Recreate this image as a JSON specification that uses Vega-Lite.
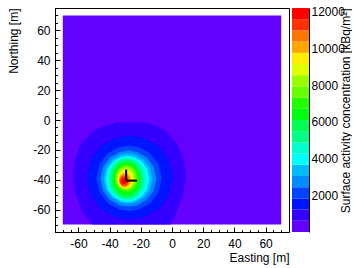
{
"$schema":"https://vega.github.io/schema/vega-lite/v6.json",
"padding":{"left":7,"top":5,"right":0,"bottom":4},
"background":"white",
"config":{"view":{"stroke":null},"font":"Liberation Sans","axis":{"labelFont":"Liberation Sans","titleFont":"Liberation Sans","labelFontSize":12,"titleFontSize":12,"titleFontWeight":"normal","labelColor":"black","titleColor":"black","tickColor":"black","domainColor":"black","grid":false,"labelOverlap":false}},
"datasets":{
"bg":[{"k":0,"x":-70,"x2":70,"y":-70,"y2":70}],
"marker":[{"x":-29.4,"y":-33.2,"x2":-29.4,"y2":-40.6},{"x":-29.4,"y":-40.6,"x2":-22.4,"y2":-40.6}],
"bar":[{"k":0,"lo":0,"hi":611},{"k":1,"lo":611,"hi":1222},{"k":2,"lo":1222,"hi":1833},{"k":3,"lo":1833,"hi":2443},{"k":4,"lo":2443,"hi":3054},{"k":5,"lo":3054,"hi":3665},{"k":6,"lo":3665,"hi":4276},{"k":7,"lo":4276,"hi":4886},{"k":8,"lo":4886,"hi":5497},{"k":9,"lo":5497,"hi":6108},{"k":10,"lo":6108,"hi":6719},{"k":11,"lo":6719,"hi":7330},{"k":12,"lo":7330,"hi":7940},{"k":13,"lo":7940,"hi":8551},{"k":14,"lo":8551,"hi":9162},{"k":15,"lo":9162,"hi":9773},{"k":16,"lo":9773,"hi":10384},{"k":17,"lo":10384,"hi":10994},{"k":18,"lo":10994,"hi":11605},{"k":19,"lo":11605,"hi":12216}],
"bands":[
{"k":1,"x":-63.3,"y":-38.6,"y2":-38.6},{"k":1,"x":-62.4,"y":-27.4,"y2":-45.3},{"k":1,"x":-61.8,"y":-25.6,"y2":-49.8},{"k":1,"x":-58.6,"y":-16.1,"y2":-58.1},{"k":1,"x":-57.5,"y":-15.0,"y2":-61},{"k":1,"x":-51,"y":-8.2,"y2":-70},{"k":1,"x":-50,"y":-7.2,"y2":-70},{"k":1,"x":-43,"y":-3.8,"y2":-70},{"k":1,"x":-35,"y":-1.6,"y2":-70},{"k":1,"x":-18,"y":-1.6,"y2":-70},{"k":1,"x":-10,"y":-4.0,"y2":-70},{"k":1,"x":-4.3,"y":-7.2,"y2":-70},{"k":1,"x":-1,"y":-11.1,"y2":-70},{"k":1,"x":3.2,"y":-16.1,"y2":-61},{"k":1,"x":7,"y":-25.2,"y2":-49.8},{"k":1,"x":7.9,"y":-27.4,"y2":-44.5},{"k":1,"x":8.9,"y":-38.6,"y2":-38.6},
{"k":2,"x":-54.8,"y":-38.6,"y2":-38.6},{"k":2,"x":-52.0,"y":-26.4,"y2":-50.8},{"k":2,"x":-45.1,"y":-17.3,"y2":-59.9},{"k":2,"x":-35.4,"y":-11.9,"y2":-65.3},{"k":2,"x":-27.1,"y":-10.6,"y2":-66.6},{"k":2,"x":-18.8,"y":-11.9,"y2":-65.3},{"k":2,"x":-9.1,"y":-17.3,"y2":-59.9},{"k":2,"x":-2.2,"y":-26.4,"y2":-50.8},{"k":2,"x":0.6,"y":-38.6,"y2":-38.6},
{"k":3,"x":-48.5,"y":-39,"y2":-39},{"k":3,"x":-46.4,"y":-29.4,"y2":-48.6},{"k":3,"x":-41.2,"y":-22.3,"y2":-55.7},{"k":3,"x":-33.8,"y":-18.0,"y2":-60.0},{"k":3,"x":-27.5,"y":-17,"y2":-61},{"k":3,"x":-21.2,"y":-18.0,"y2":-60.0},{"k":3,"x":-13.9,"y":-22.3,"y2":-55.7},{"k":3,"x":-8.6,"y":-29.4,"y2":-48.6},{"k":3,"x":-6.5,"y":-39,"y2":-39},
{"k":4,"x":-46,"y":-39.3,"y2":-39.3},{"k":4,"x":-44.2,"y":-31.1,"y2":-47.5},{"k":4,"x":-39.7,"y":-25.0,"y2":-53.5},{"k":4,"x":-33.4,"y":-21.4,"y2":-57.2},{"k":4,"x":-28,"y":-20.5,"y2":-58},{"k":4,"x":-22.6,"y":-21.4,"y2":-57.2},{"k":4,"x":-16.3,"y":-25.0,"y2":-53.5},{"k":4,"x":-11.8,"y":-31.1,"y2":-47.5},{"k":4,"x":-10,"y":-39.3,"y2":-39.3},
{"k":5,"x":-44,"y":-39.3,"y2":-39.3},{"k":5,"x":-42.4,"y":-32.0,"y2":-46.6},{"k":5,"x":-38.5,"y":-26.6,"y2":-51.9},{"k":5,"x":-33.0,"y":-23.3,"y2":-55.2},{"k":5,"x":-28.3,"y":-22.5,"y2":-56},{"k":5,"x":-23.5,"y":-23.3,"y2":-55.2},{"k":5,"x":-18.0,"y":-26.6,"y2":-51.9},{"k":5,"x":-14.1,"y":-32.0,"y2":-46.6},{"k":5,"x":-12.5,"y":-39.3,"y2":-39.3},
{"k":6,"x":-42.5,"y":-39.5,"y2":-39.5},{"k":6,"x":-41.1,"y":-32.7,"y2":-46.3},{"k":6,"x":-37.6,"y":-27.7,"y2":-51.3},{"k":6,"x":-32.7,"y":-24.7,"y2":-54.3},{"k":6,"x":-28.5,"y":-24,"y2":-55},{"k":6,"x":-24.3,"y":-24.7,"y2":-54.3},{"k":6,"x":-19.4,"y":-27.7,"y2":-51.3},{"k":6,"x":-15.9,"y":-32.7,"y2":-46.3},{"k":6,"x":-14.5,"y":-39.5,"y2":-39.5},
{"k":7,"x":-41,"y":-39.5,"y2":-39.5},{"k":7,"x":-39.8,"y":-33.2,"y2":-45.8},{"k":7,"x":-36.7,"y":-28.5,"y2":-50.5},{"k":7,"x":-32.4,"y":-25.7,"y2":-53.3},{"k":7,"x":-28.8,"y":-25,"y2":-54},{"k":7,"x":-25.1,"y":-25.7,"y2":-53.3},{"k":7,"x":-20.8,"y":-28.5,"y2":-50.5},{"k":7,"x":-17.7,"y":-33.2,"y2":-45.8},{"k":7,"x":-16.5,"y":-39.5,"y2":-39.5},
{"k":8,"x":-40,"y":-39.5,"y2":-39.5},{"k":8,"x":-38.9,"y":-33.6,"y2":-45.4},{"k":8,"x":-36.2,"y":-29.2,"y2":-49.8},{"k":8,"x":-32.3,"y":-26.6,"y2":-52.4},{"k":8,"x":-29,"y":-26,"y2":-53},{"k":8,"x":-25.7,"y":-26.6,"y2":-52.4},{"k":8,"x":-21.9,"y":-29.2,"y2":-49.8},{"k":8,"x":-19.1,"y":-33.6,"y2":-45.4},{"k":8,"x":-18,"y":-39.5,"y2":-39.5},
{"k":9,"x":-39,"y":-39.5,"y2":-39.5},{"k":9,"x":-38,"y":-34,"y2":-45},{"k":9,"x":-35.5,"y":-30,"y2":-49},{"k":9,"x":-32,"y":-27.6,"y2":-51.4},{"k":9,"x":-29,"y":-27,"y2":-52},{"k":9,"x":-26,"y":-27.6,"y2":-51.4},{"k":9,"x":-22.5,"y":-30,"y2":-49},{"k":9,"x":-20,"y":-34,"y2":-45},{"k":9,"x":-19,"y":-39.5,"y2":-39.5},
{"k":10,"x":-38,"y":-39.5,"y2":-39.5},{"k":10,"x":-37.1,"y":-34.7,"y2":-44.3},{"k":10,"x":-34.9,"y":-31.1,"y2":-47.9},{"k":10,"x":-31.9,"y":-29.0,"y2":-50.0},{"k":10,"x":-29.3,"y":-28.5,"y2":-50.5},{"k":10,"x":-26.6,"y":-29.0,"y2":-50.0},{"k":10,"x":-23.6,"y":-31.1,"y2":-47.9},{"k":10,"x":-21.4,"y":-34.7,"y2":-44.3},{"k":10,"x":-20.5,"y":-39.5,"y2":-39.5},
{"k":11,"x":-37,"y":-39.3,"y2":-39.3},{"k":11,"x":-36.2,"y":-35.0,"y2":-43.6},{"k":11,"x":-34.3,"y":-31.9,"y2":-46.7},{"k":11,"x":-31.6,"y":-30.0,"y2":-48.6},{"k":11,"x":-29.3,"y":-29.5,"y2":-49.0},{"k":11,"x":-26.9,"y":-30.0,"y2":-48.6},{"k":11,"x":-24.2,"y":-31.9,"y2":-46.7},{"k":11,"x":-22.3,"y":-35.0,"y2":-43.6},{"k":11,"x":-21.5,"y":-39.3,"y2":-39.3},
{"k":12,"x":-36.2,"y":-39,"y2":-39},{"k":12,"x":-35.5,"y":-35.3,"y2":-42.7},{"k":12,"x":-33.8,"y":-32.5,"y2":-45.5},{"k":12,"x":-31.4,"y":-30.9,"y2":-47.1},{"k":12,"x":-29.3,"y":-30.5,"y2":-47.5},{"k":12,"x":-27.2,"y":-30.9,"y2":-47.1},{"k":12,"x":-24.8,"y":-32.5,"y2":-45.5},{"k":12,"x":-23.1,"y":-35.3,"y2":-42.7},{"k":12,"x":-22.4,"y":-39,"y2":-39},
{"k":13,"x":-35.5,"y":-39,"y2":-39},{"k":13,"x":-34.9,"y":-35.7,"y2":-42.3},{"k":13,"x":-33.4,"y":-33.3,"y2":-44.7},{"k":13,"x":-31.3,"y":-31.8,"y2":-46.2},{"k":13,"x":-29.5,"y":-31.5,"y2":-46.5},{"k":13,"x":-27.7,"y":-31.8,"y2":-46.2},{"k":13,"x":-25.6,"y":-33.3,"y2":-44.7},{"k":13,"x":-24.1,"y":-35.7,"y2":-42.3},{"k":13,"x":-23.5,"y":-39,"y2":-39},
{"k":14,"x":-35,"y":-39.3,"y2":-39.3},{"k":14,"x":-34.5,"y":-36.4,"y2":-42.2},{"k":14,"x":-33.2,"y":-34.2,"y2":-44.4},{"k":14,"x":-31.3,"y":-32.9,"y2":-45.7},{"k":14,"x":-29.8,"y":-32.5,"y2":-46},{"k":14,"x":-28.2,"y":-32.9,"y2":-45.7},{"k":14,"x":-26.3,"y":-34.2,"y2":-44.4},{"k":14,"x":-25.0,"y":-36.4,"y2":-42.2},{"k":14,"x":-24.5,"y":-39.3,"y2":-39.3},
{"k":15,"x":-34.5,"y":-39.8,"y2":-39.8},{"k":15,"x":-34.1,"y":-37.3,"y2":-42.3},{"k":15,"x":-32.9,"y":-35.4,"y2":-44.2},{"k":15,"x":-31.4,"y":-34.3,"y2":-45.3},{"k":15,"x":-30,"y":-34,"y2":-45.5},{"k":15,"x":-28.7,"y":-34.3,"y2":-45.3},{"k":15,"x":-27.1,"y":-35.4,"y2":-44.2},{"k":15,"x":-25.9,"y":-37.3,"y2":-42.3},{"k":15,"x":-25.5,"y":-39.8,"y2":-39.8},
{"k":16,"x":-34,"y":-40.3,"y2":-40.3},{"k":16,"x":-33.6,"y":-38.2,"y2":-42.4},{"k":16,"x":-32.7,"y":-36.7,"y2":-43.9},{"k":16,"x":-31.4,"y":-35.8,"y2":-44.8},{"k":16,"x":-30.3,"y":-35.5,"y2":-45},{"k":16,"x":-29.1,"y":-35.8,"y2":-44.8},{"k":16,"x":-27.8,"y":-36.7,"y2":-43.9},{"k":16,"x":-26.9,"y":-38.2,"y2":-42.4},{"k":16,"x":-26.5,"y":-40.3,"y2":-40.3},
{"k":17,"x":-33.8,"y":-40.5,"y2":-40.5},{"k":17,"x":-33.5,"y":-38.8,"y2":-42.2},{"k":17,"x":-32.6,"y":-37.5,"y2":-43.5},{"k":17,"x":-31.5,"y":-36.7,"y2":-44.3},{"k":17,"x":-30.5,"y":-36.5,"y2":-44.5},{"k":17,"x":-29.5,"y":-36.7,"y2":-44.3},{"k":17,"x":-28.4,"y":-37.5,"y2":-43.5},{"k":17,"x":-27.5,"y":-38.8,"y2":-42.2},{"k":17,"x":-27.2,"y":-40.5,"y2":-40.5},
{"k":18,"x":-33.5,"y":-40.8,"y2":-40.8},{"k":18,"x":-33.2,"y":-39.4,"y2":-42.2},{"k":18,"x":-32.5,"y":-38.3,"y2":-43.3},{"k":18,"x":-31.6,"y":-37.7,"y2":-43.9},{"k":18,"x":-30.8,"y":-37.5,"y2":-44},{"k":18,"x":-29.9,"y":-37.7,"y2":-43.9},{"k":18,"x":-29.0,"y":-38.3,"y2":-43.3},{"k":18,"x":-28.3,"y":-39.4,"y2":-42.2},{"k":18,"x":-28,"y":-40.8,"y2":-40.8},
{"k":19,"x":-32.8,"y":-41,"y2":-41},{"k":19,"x":-32.6,"y":-40.1,"y2":-41.9},{"k":19,"x":-32.1,"y":-39.5,"y2":-42.5},{"k":19,"x":-31.5,"y":-39.1,"y2":-42.9},{"k":19,"x":-30.9,"y":-39,"y2":-43},{"k":19,"x":-30.3,"y":-39.1,"y2":-42.9},{"k":19,"x":-29.7,"y":-39.5,"y2":-42.5},{"k":19,"x":-29.2,"y":-40.1,"y2":-41.9},{"k":19,"x":-29,"y":-41,"y2":-41}
]},
"spacing":2,
"hconcat":[
{"width":234,"height":224,
"view":{"stroke":"black","strokeWidth":1},
"resolve":{"axis":{"x":"independent","y":"independent"}},
"layer":[
{"data":{"name":"bg"},"mark":{"type":"rect"},
"encoding":{
"x":{"field":"x","type":"quantitative","scale":{"domain":[-75,75],"nice":false,"zero":false},"axis":{"orient":"bottom","values":[-60,-40,-20,0,20,40,60],"labelExpr":"''+datum.value","tickSize":-5,"labelPadding":11,"title":"Easting [m]","titleAnchor":"end","titlePadding":3}},
"x2":{"field":"x2"},
"y":{"field":"y","type":"quantitative","scale":{"domain":[-75,75],"nice":false,"zero":false},"axis":{"orient":"left","values":[-60,-40,-20,0,20,40,60],"labelExpr":"''+datum.value","tickSize":-5,"labelPadding":10,"title":"Northing [m]","titleAnchor":"end","titlePadding":12}},
"y2":{"field":"y2"},
"color":{"field":"k","type":"ordinal","scale":{"domain":[0,1,2,3,4,5,6,7,8,9,10,11,12,13,14,15,16,17,18,19],"range":["#6300ff","#3300ff","#0014ff","#0044ff","#008bff","#00bbff","#00fffc","#00ffcc","#00ff85","#00ff55","#00ff0e","#22ff00","#69ff00","#99ff00","#e0ff00","#ffee00","#ffa700","#ff7700","#ff3000","#ff0000"]},"legend":null}}},
{"data":{"name":"bands"},"mark":{"type":"area","interpolate":"linear"},
"encoding":{
"x":{"field":"x","type":"quantitative","axis":{"orient":"bottom","values":[-75,-70,-65,-60,-55,-50,-45,-40,-35,-30,-25,-20,-15,-10,-5,0,5,10,15,20,25,30,35,40,45,50,55,60,65,70,75],"labels":false,"domain":false,"tickSize":-2.5,"title":null}},
"y":{"field":"y","type":"quantitative","stack":null,"axis":{"orient":"left","values":[-75,-70,-65,-60,-55,-50,-45,-40,-35,-30,-25,-20,-15,-10,-5,0,5,10,15,20,25,30,35,40,45,50,55,60,65,70,75],"labels":false,"domain":false,"tickSize":-2.5,"title":null}},
"y2":{"field":"y2"},
"color":{"field":"k","type":"ordinal","legend":null}}},
{"data":{"name":"marker"},"mark":{"type":"rule","color":"black","strokeWidth":2},
"encoding":{
"x":{"field":"x","type":"quantitative","axis":null},
"x2":{"field":"x2"},
"y":{"field":"y","type":"quantitative","axis":null},
"y2":{"field":"y2"}}}
]},
{"width":17,"height":224,
"data":{"name":"bar"},
"mark":{"type":"rect"},
"encoding":{
"y":{"field":"lo","type":"quantitative","scale":{"domain":[0,12216],"nice":false,"zero":true},"axis":{"orient":"right","values":[2000,4000,6000,8000,10000,12000],"format":"d","tickSize":-7,"labelPadding":9,"title":"Surface activity concentration [kBq/m²]","titleAngle":270,"titleBaseline":"top","titleAnchor":"end","titlePadding":-4}},
"y2":{"field":"hi"},
"color":{"field":"k","type":"ordinal","legend":null}}}
]
}
